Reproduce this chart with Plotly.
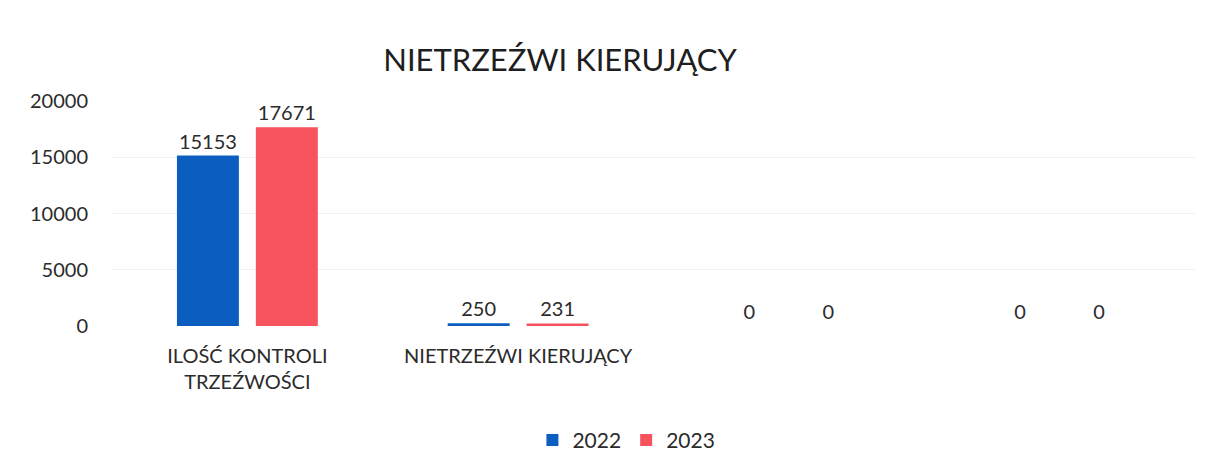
import plotly.graph_objects as go

CATEGORIES = ["ILOŚĆ KONTROLI<br>TRZEŹWOŚCI", "NIETRZEŹWI KIERUJĄCY", " ", "  "]
VALUES_2022 = [15153, 250, 0, 0]
VALUES_2023 = [17671, 231, 0, 0]
Y_TICKS = [0, 5000, 10000, 15000, 20000]

BLUE = "#0B5EC0"
RED = "#F6535E"
TEXT_COLOR = "#2b2b2b"
FONT = "Lato, 'Open Sans', sans-serif"

fig = go.Figure()
for name, vals, color in [("2022", VALUES_2022, BLUE), ("2023", VALUES_2023, RED)]:
    fig.add_trace(go.Bar(x=CATEGORIES, y=vals, name=name,
                         marker=dict(color=color, line=dict(width=0)),
                         text=[str(v) for v in vals], textposition="outside",
                         textfont=dict(size=20, color=TEXT_COLOR),
                         cliponaxis=False))

fig.update_layout(
    width=1200, height=455,
    margin=dict(l=104, r=13, t=93, b=137),
    paper_bgcolor="white", plot_bgcolor="white",
    font=dict(family=FONT, color=TEXT_COLOR, size=20),
    title=dict(text="NIETRZEŹWI KIERUJĄCY", x=0.46, xanchor="center",
               y=0.886, yanchor="middle", font=dict(size=31, color="#1e1e1e")),
    barmode="group", bargap=0.417, bargroupgap=0.215,
    xaxis=dict(showgrid=False, showline=False, ticks="", tickfont=dict(size=20),
               ticklabelstandoff=16, automargin=False),
    yaxis=dict(range=[0, 20000], tickvals=Y_TICKS, ticktext=[str(t) for t in Y_TICKS],
               showgrid=True, gridcolor="#f0f0f0", zeroline=False, showline=False,
               tickfont=dict(size=20), ticklabelstandoff=23, automargin=False),
    legend=dict(orientation="h", x=0.475, xanchor="center",
                yref="container", y=0.05, yanchor="middle",
                font=dict(size=21), itemwidth=30, traceorder="normal"),
    showlegend=True,
)

fig.write_html("out.html")
